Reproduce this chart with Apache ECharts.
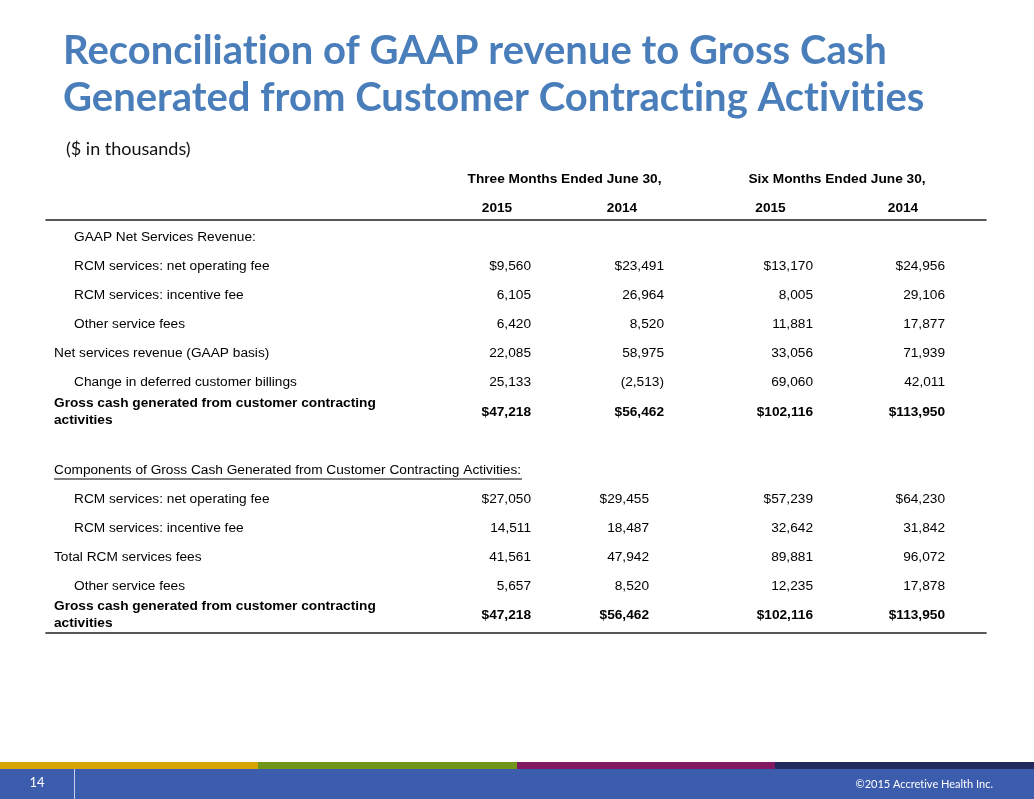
<!DOCTYPE html>
<html>
<head>
<meta charset="utf-8">
<script src="https://cdn.jsdelivr.net/npm/echarts@6/dist/echarts.min.js"></script>
<style>
html,body{margin:0;padding:0;background:#fff;}
#chart{width:1034px;height:799px;}
</style>
</head>
<body>
<div id="chart"></div>
<script>
// ---------- data ----------
const titleText = 'Reconciliation of GAAP revenue to Gross Cash\nGenerated from Customer Contracting Activities';
const subTitleText = '($ in thousands)';
const footerText = '\u00A92015 Accretive Health Inc.';
const pageNumber = '14';
const rowLabels = [
  '', '',
  'GAAP Net Services Revenue:',
  'RCM services: net operating fee',
  'RCM services: incentive fee',
  'Other service fees',
  'Net services revenue (GAAP basis)',
  'Change in deferred customer billings',
  'Gross cash generated from customer contracting\nactivities',
  '',
  'Components of Gross Cash Generated from Customer Contracting Activities:',
  'RCM services: net operating fee',
  'RCM services: incentive fee',
  'Total RCM services fees',
  'Other service fees',
  'Gross cash generated from customer contracting\nactivities'
];
const groupHeaders = ['Three Months Ended June 30,', 'Six Months Ended June 30,'];
const yearLabels = ['2015', '2014', '2015', '2014'];
const valueRows = [3, 4, 5, 6, 7, 8, 11, 12, 13, 14, 15];
const q2015 = [9560, 6105, 6420, 22085, 25133, 47218, 27050, 14511, 41561, 5657, 47218];
const q2014 = [23491, 26964, 8520, 58975, -2513, 56462, 29455, 18487, 47942, 8520, 56462];
const h2015 = [13170, 8005, 11881, 33056, 69060, 102116, 57239, 32642, 89881, 12235, 102116];
const h2014 = [24956, 29106, 17877, 71939, 42011, 113950, 64230, 31842, 96072, 17878, 113950];
const columns = [q2015, q2014, h2015, h2014];
const dollarRows = [3, 8, 11, 15];
const boldRows = [8, 15];
const indentRows = [2, 3, 4, 5, 7, 11, 12, 14];
const underlineRows = [10];

// ---------- styles ----------
const FONT = '"Liberation Sans", Arial, sans-serif';
const FS = 13.7;
const numRightNudge = [[21, 21], [14, -1], [23, 23], [15, 15]]; // per column, per section
const yearNudge = [-13, -28, -19.5, -27];
const groupNudge = [54.5, 47];

function fmt(v, dollar) {
  const s = Math.abs(v).toLocaleString('en-US');
  if (v < 0) return '(' + s + ')';
  return (dollar ? '$' : '') + s;
}
// keep the "t"+"i" letters from being drawn as a ligature (the source shows them apart)
function noLig(s) { return s.replace(/ti/g, 't\u200Ci'); }

const ctx = document.createElement('canvas').getContext('2d');
ctx.font = FS + 'px "Liberation Sans"';
const ulWidth = Math.ceil(ctx.measureText(rowLabels[10]).width);

const gridTop = 164.8, slotH = 29.055, nSlots = rowLabels.length;
const gridH = slotH * nSlots;
const gridBottom = 799 - gridTop - gridH;

const chart = echarts.init(document.getElementById('chart'));

const numberSeries = columns.map((col, c) => ({
  type: 'scatter',
  xAxisIndex: 2, yAxisIndex: 1,
  symbolSize: 0,
  silent: true,
  itemStyle: { opacity: 1 },
  data: col.map((v, i) => {
    const r = valueRows[i];
    const section = r < 9 ? 0 : 1;
    return {
      name: fmt(v, dollarRows.includes(r)),
      value: [c, r],
      label: {
        fontWeight: boldRows.includes(r) ? 'bold' : 'normal',
        offset: [numRightNudge[c][section], 0]
      }
    };
  }),
  label: {
    show: true, position: 'inside', align: 'right', verticalAlign: 'middle', opacity: 1,
    formatter: '{b}', color: '#000', textBorderWidth: 0, fontFamily: FONT, fontSize: FS
  }
}));

const headerSeries = {
  type: 'scatter',
  xAxisIndex: 2, yAxisIndex: 1,
  symbolSize: 0,
  silent: true,
  itemStyle: { opacity: 1 },
  data: groupHeaders.map((g, i) => ({
    name: g, value: [i * 2, 0], label: { offset: [groupNudge[i], 0] }
  })).concat(yearLabels.map((y, c) => ({
    name: y, value: [c, 1], label: { offset: [yearNudge[c], 0] }
  }))),
  label: {
    show: true, position: 'inside', align: 'center', verticalAlign: 'middle', opacity: 1,
    formatter: '{b}', color: '#000', textBorderWidth: 0, fontFamily: FONT, fontSize: FS, fontWeight: 'bold'
  }
};

const option = {
  animation: false,
  backgroundColor: '#fff',
  title: [
    {
      text: noLig(titleText), left: 63, top: 28, padding: 0,
      textStyle: { fontFamily: 'Lato', fontWeight: 'bold', fontSize: 40, lineHeight: 46.5, color: '#4A7EBB' }
    },
    {
      text: subTitleText, left: 66, top: 138, padding: 0,
      textStyle: { fontFamily: 'Lato', fontWeight: 'normal', fontSize: 18, lineHeight: 22, color: '#111' }
    }
  ],
  grid: [
    { left: 46, right: 48, top: gridTop, bottom: gridBottom },
    { left: 440, right: 34, top: gridTop, bottom: gridBottom }
  ],
  xAxis: [
    {
      gridIndex: 0, type: 'value', min: 0, max: 1, position: 'bottom', offset: 3.3,
      axisLine: { show: true, onZero: false, lineStyle: { color: '#222', width: 1.6 } },
      axisTick: { show: false }, axisLabel: { show: false }, splitLine: { show: false }
    },
    {
      gridIndex: 0, type: 'value', min: 0, max: 1, position: 'top', offset: -(220 - gridTop),
      axisLine: { show: true, onZero: false, lineStyle: { color: '#222', width: 1.6 } },
      axisTick: { show: false }, axisLabel: { show: false }, splitLine: { show: false }
    },
    {
      gridIndex: 1, type: 'category', data: ['c0', 'c1', 'c2', 'c3'], show: false
    }
  ],
  yAxis: [
    {
      gridIndex: 0, type: 'category', inverse: true, data: rowLabels,
      axisLine: { show: false }, axisTick: { show: false }, splitLine: { show: false },
      axisLabel: {
        interval: 0, align: 'left', margin: -8, verticalAlign: 'middle',
        color: '#000', fontFamily: FONT, fontSize: FS,
        formatter: function (value, idx) {
          if (underlineRows.includes(idx)) {
            return '{sp| }\n{t|' + value + '}\n{ul| }';
          }
          if (boldRows.includes(idx)) {
            return value.split('\n').map(s => '{b|' + s + '}').join('\n');
          }
          if (indentRows.includes(idx)) return '{ind|' + value + '}';
          return '{t|' + value + '}';
        },
        rich: {
          t: { fontFamily: FONT, fontSize: FS, color: '#000', lineHeight: 16 },
          ind: { fontFamily: FONT, fontSize: FS, color: '#000', lineHeight: 16, padding: [0, 0, 0, 20] },
          b: { fontFamily: FONT, fontSize: FS, color: '#000', fontWeight: 'bold', lineHeight: 17 },
          sp: { fontSize: 1, lineHeight: 2 },
          ul: { fontSize: 1, lineHeight: 2, height: 1, width: ulWidth, backgroundColor: '#000' }
        }
      }
    },
    {
      gridIndex: 1, type: 'category', inverse: true, data: rowLabels.map((_, i) => 'r' + i), show: false
    }
  ],
  graphic: [
    { type: 'rect', shape: { x: 0, y: 762, width: 258, height: 7 }, style: { fill: '#D6A404' }, silent: true },
    { type: 'rect', shape: { x: 258, y: 762, width: 259, height: 7 }, style: { fill: '#72961A' }, silent: true },
    { type: 'rect', shape: { x: 517, y: 762, width: 258, height: 7 }, style: { fill: '#821A62' }, silent: true },
    { type: 'rect', shape: { x: 775, y: 762, width: 259, height: 7 }, style: { fill: '#24295E' }, silent: true },
    { type: 'rect', shape: { x: 0, y: 769, width: 1034, height: 30 }, style: { fill: '#3C5DAD' }, silent: true },
    { type: 'line', shape: { x1: 74.5, y1: 769, x2: 74.5, y2: 799 }, style: { stroke: '#C8D2EC', lineWidth: 1 }, silent: true },
    { type: 'text', style: { text: pageNumber, x: 37, y: 783, align: 'center', verticalAlign: 'middle', fill: '#fff', font: '13px Lato' }, silent: true },
    { type: 'text', style: { text: noLig(footerText), x: 993, y: 784, align: 'right', verticalAlign: 'middle', fill: '#fff', font: '11px Lato' }, silent: true }
  ],
  series: numberSeries.concat([headerSeries])
};

chart.setOption(option);
</script>
</body>
</html>
